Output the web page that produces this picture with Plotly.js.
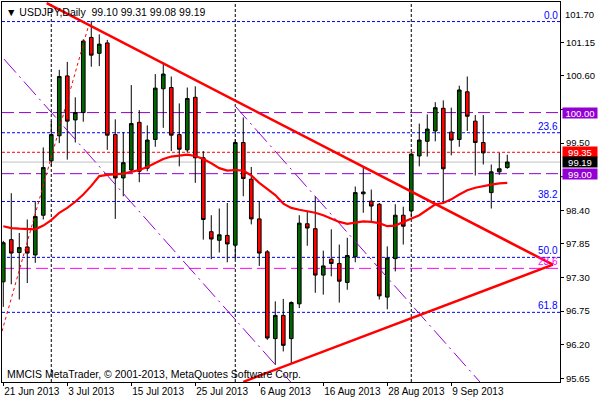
<!DOCTYPE html>
<html>
<head>
<meta charset="utf-8">
<script src="https://cdn.plot.ly/plotly-3.0.1.min.js"></script>
<style>html,body{margin:0;padding:0;background:#fff}#chart{width:600px;height:400px}</style>
</head>
<body>
<div id="chart"></div>
<script>
// ---- Data (bar index 0 = 21 Jun 2013, daily bars) ----
const candleOpen  = [97.23,97.92,97.71,97.80,97.67,98.32,99.21,99.62,100.60,99.88,100.00,101.23,100.97,101.14,99.64,98.93,99.06,99.84,99.09,99.56,100.39,100.41,99.64,99.39,100.25,99.26,98.05,97.91,97.99,97.83,99.51,98.91,98.26,97.72,96.30,96.68,96.30,96.87,98.18,98.10,97.34,97.60,97.53,97.22,97.64,98.67,98.55,98.50,96.98,97.61,98.32,98.39,99.29,99.53,99.70,100.07,99.68,99.56,100.34,99.86,99.51,98.69,99.03,99.10];
const candleHigh  = [97.90,98.68,98.03,98.25,98.55,99.43,99.86,100.70,100.83,100.25,101.20,101.50,101.28,101.19,99.89,99.68,100.45,100.04,99.79,100.63,100.82,100.59,100.15,100.41,100.43,99.37,98.32,98.43,98.52,99.56,99.92,99.11,98.55,97.75,96.91,96.95,96.91,98.32,98.39,98.63,97.74,98.09,97.84,97.95,98.79,99.12,98.74,98.52,97.81,98.50,98.46,99.35,99.82,99.97,100.17,100.20,100.08,100.44,100.59,99.96,99.96,99.15,99.34,99.31];
const candleLow   = [96.82,97.19,96.94,97.21,97.54,98.25,99.12,99.50,99.23,99.51,99.85,100.75,100.76,99.39,98.26,98.63,99.04,98.86,99.04,99.44,99.75,99.37,99.12,99.35,98.85,97.92,97.60,97.71,97.55,97.60,98.63,98.17,97.49,96.28,95.87,96.09,95.90,96.80,97.82,97.05,97.02,97.32,96.89,97.10,97.55,98.36,98.21,96.94,96.78,97.40,97.84,98.30,99.12,99.28,99.53,98.55,99.30,99.44,99.70,98.97,99.15,98.43,98.98,99.08];
const candleClose = [97.87,97.70,97.79,97.70,98.30,99.10,99.64,100.59,99.86,100.00,101.17,100.94,101.12,99.63,98.93,99.18,99.82,99.04,99.55,100.40,100.63,99.63,99.40,100.23,99.26,98.25,97.93,98.00,97.85,99.51,98.92,98.26,97.70,96.31,96.68,96.19,96.89,98.19,98.11,97.34,97.49,97.53,97.24,97.66,98.69,98.70,98.47,97.00,97.62,98.32,98.14,99.32,99.55,99.73,100.08,99.08,99.55,100.37,99.94,99.51,99.34,99.03,99.08,99.19];
const movingAvg   = [98.14,98.11,98.10,98.09,98.09,98.15,98.24,98.36,98.44,98.54,98.66,98.80,98.96,98.98,98.99,99.00,99.03,99.06,99.11,99.18,99.24,99.28,99.29,99.31,99.29,99.24,99.17,99.09,99.05,99.06,99.05,98.97,98.85,98.75,98.65,98.51,98.44,98.41,98.39,98.36,98.32,98.26,98.21,98.18,98.20,98.22,98.21,98.19,98.14,98.15,98.21,98.27,98.32,98.41,98.50,98.52,98.58,98.66,98.73,98.77,98.80,98.82,98.84,98.85];

const xTickBars   = [0, 8, 16, 24, 32, 40, 48, 56];
const xTickLabels = ['21 Jun 2013','3 Jul 2013','15 Jul 2013','25 Jul 2013','6 Aug 2013','16 Aug 2013','28 Aug 2013','9 Sep 2013'];
const yTickValues = [95.65, 96.20, 96.75, 97.30, 97.85, 98.40, 99.50, 100.60, 101.15];
const yTopLabel   = '101.70';

const monthSeparators = [6, 29, 51];

const fibLevels = [101.49, 99.67, 98.545, 97.63, 96.73];
const fibLabels = ['0.0', '23.6', '38.2', '50.0', '61.8'];

const levelPurple = [100.00, 99.00];
const levelRed    = 99.35;
const levelBid    = 99.19;
const levelMagenta = 97.45;

const trendDownX = [5.43, 68.71],  trendDownY = [101.79, 97.51];
const trendUpX   = [30.0, 68.71],  trendUpY   = [95.593, 97.51];
const dottedRedX = [-0.16, 10.63], dottedRedY = [96.42, 101.41];
const channelAX  = [0.09, 35.94],  channelAY  = [100.875, 95.588];
const channelBX  = [28.96, 59.6],  channelBY  = [100.11, 95.588];

const titleText = '\u25BC USDJPY,Daily  99.10 99.31 99.08 99.19';
const copyText  = 'MMCIS MetaTrader, \u00A9 2001-2013, MetaQuotes Software Corp.';

// ---- Build ----
const bars = candleOpen.map((_, i) => i);
const FONT = 'Liberation Sans, Arial, sans-serif';

const traces = [
  {
    type: 'candlestick', x: bars,
    open: candleOpen, high: candleHigh, low: candleLow, close: candleClose,
    increasing: {line: {color: '#000000', width: 1}, fillcolor: '#006400'},
    decreasing: {line: {color: '#000000', width: 1}, fillcolor: '#ff0000'},
    whiskerwidth: 0, hoverinfo: 'skip', showlegend: false
  },
  {type: 'scatter', mode: 'lines', x: channelAX, y: channelAY,
   line: {color: '#9400D3', width: 1, dash: '18px,5px,2px,5px'}, hoverinfo: 'skip', showlegend: false},
  {type: 'scatter', mode: 'lines', x: channelBX, y: channelBY,
   line: {color: '#9400D3', width: 1, dash: '18px,5px,2px,5px'}, hoverinfo: 'skip', showlegend: false},
  {type: 'scatter', mode: 'lines', x: dottedRedX, y: dottedRedY,
   line: {color: '#ff0000', width: 1, dash: '3px,3px'}, hoverinfo: 'skip', showlegend: false},
  {type: 'scatter', mode: 'lines', x: bars, y: movingAvg,
   line: {color: '#ff0000', width: 2.2}, hoverinfo: 'skip', showlegend: false},
  {type: 'scatter', mode: 'lines', x: trendDownX, y: trendDownY,
   line: {color: '#ff0000', width: 2.5}, hoverinfo: 'skip', showlegend: false},
  {type: 'scatter', mode: 'lines', x: trendUpX, y: trendUpY,
   line: {color: '#ff0000', width: 2.5}, hoverinfo: 'skip', showlegend: false}
];

const shapes = [];
const hline = (y, color, dash) => shapes.push({type: 'line', xref: 'paper', x0: 0, x1: 1, yref: 'y', y0: y, y1: y,
  line: {color: color, width: 1, dash: dash}, layer: 'below'});
fibLevels.forEach(v => hline(v, '#0000ff', '3px,2px'));
levelPurple.forEach(v => hline(v, '#9400D3', '12px,5px'));
hline(levelMagenta, '#ff00ff', '12px,5px');
hline(levelRed, '#ff0000', '3px,2px');
hline(levelBid, '#c0c0c0', 'solid');
monthSeparators.forEach(b => shapes.push({type: 'line', xref: 'x', x0: b, x1: b, yref: 'paper', y0: 0, y1: 1,
  line: {color: '#000000', width: 1, dash: '3px,2px'}, layer: 'below'}));
[100.05, 98.95].forEach(v => shapes.push({type: 'line', xref: 'paper', x0: 1, x1: 1.006, yref: 'y', y0: v, y1: v,
  line: {color: '#000000', width: 1}}));

const annotations = [];
fibLabels.forEach((t, k) => annotations.push({xref: 'paper', x: 1, xanchor: 'right', xshift: -1,
  yref: 'y', y: fibLevels[k], yanchor: 'bottom', text: t, showarrow: false,
  font: {family: FONT, size: 10, color: '#0000ff'}, borderpad: 0}));
annotations.push({xref: 'paper', x: 1, xanchor: 'right', xshift: -1, yref: 'y', y: levelMagenta, yanchor: 'bottom',
  text: '23.6', showarrow: false, font: {family: FONT, size: 10, color: '#ff00ff'}, borderpad: 0});

const priceBox = (y, txt, bg) => annotations.push({xref: 'paper', x: 1, xanchor: 'left', xshift: 2,
  yref: 'y', y: y, yanchor: 'middle', text: txt, showarrow: false, bgcolor: bg,
  width: 34, height: 10, align: 'center',
  font: {family: FONT, size: 9.5, color: '#ffffff'}, borderpad: 0});
priceBox(levelPurple[0], levelPurple[0].toFixed(2), '#9400D3');
priceBox(levelRed, levelRed.toFixed(2), '#ff0000');
priceBox(levelBid, levelBid.toFixed(2), '#000000');
priceBox(levelPurple[1], levelPurple[1].toFixed(2), '#9400D3');

annotations.push({xref: 'paper', x: 1, xanchor: 'left', xshift: 4, yref: 'paper', y: 0.9658, yanchor: 'middle',
  text: yTopLabel, showarrow: false, font: {family: FONT, size: 9.5, color: '#000000'}, borderpad: 0});
annotations.push({xref: 'paper', x: 0, xanchor: 'left', xshift: 3, yref: 'paper', y: 1, yanchor: 'top', yshift: -3,
  text: titleText, showarrow: false, font: {family: FONT, size: 10.5, color: '#000000'}, borderpad: 0});
annotations.push({xref: 'paper', x: 0, xanchor: 'left', xshift: 4, yref: 'paper', y: 0, yanchor: 'bottom', yshift: 1,
  text: copyText, showarrow: false, font: {family: FONT, size: 10.5, color: '#000000'}, borderpad: 0});

const layout = {
  width: 600, height: 400,
  margin: {l: 2, r: 40, t: 2, b: 18, pad: 0},
  paper_bgcolor: '#ffffff', plot_bgcolor: '#ffffff',
  showlegend: false, boxgap: 0.35,
  xaxis: {
    range: [-0.16, 69.59], rangeslider: {visible: false},
    showgrid: false, zeroline: false, showline: true, linecolor: '#000000', linewidth: 1, mirror: true,
    ticks: 'outside', ticklen: 3, tickcolor: '#000000', tickangle: 0, automargin: false,
    tickvals: xTickBars, ticktext: xTickLabels, ticklabelposition: 'outside right',
    tickfont: {family: FONT, size: 10, color: '#000000'}, fixedrange: true
  },
  yaxis: {
    side: 'right', range: [95.59, 101.81], automargin: false,
    showgrid: false, zeroline: false, showline: true, linecolor: '#000000', linewidth: 1, mirror: true,
    ticks: 'outside', ticklen: 3, tickcolor: '#000000',
    tickvals: yTickValues, ticktext: yTickValues.map(v => v.toFixed(2)),
    tickfont: {family: FONT, size: 9.5, color: '#000000'}, fixedrange: true
  },
  shapes: shapes,
  annotations: annotations
};

Plotly.newPlot('chart', traces, layout, {staticPlot: true, displayModeBar: false});
</script>
</body>
</html>
